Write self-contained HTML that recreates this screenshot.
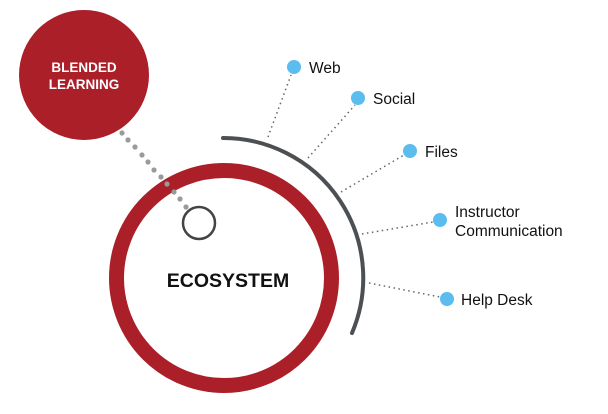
<!DOCTYPE html>
<html><head><style>
html,body{margin:0;padding:0;background:#fff;}
svg{display:block;}
text{font-family:"Liberation Sans",Arial,sans-serif;}
</style></head><body>
<svg width="608" height="414" viewBox="0 0 608 414" xmlns="http://www.w3.org/2000/svg">
<circle cx="224" cy="278" r="107.5" fill="none" stroke="#ab1f29" stroke-width="15"/>
<circle cx="84" cy="75" r="65" fill="#ab1f29"/>
<text x="84" y="72" fill="#fff" font-size="13.5" font-weight="bold" text-anchor="middle">BLENDED</text>
<text x="84" y="89" fill="#fff" font-size="13.5" font-weight="bold" text-anchor="middle">LEARNING</text>
<g fill="#9a9a9a">
<circle cx="122" cy="133" r="2.6"/><circle cx="128" cy="140" r="2.6"/><circle cx="135" cy="147" r="2.6"/>
<circle cx="142" cy="155" r="2.6"/><circle cx="148" cy="162" r="2.6"/><circle cx="154" cy="170" r="2.6"/>
<circle cx="161" cy="177" r="2.6"/><circle cx="167" cy="184" r="2.6"/><circle cx="174" cy="192" r="2.6"/>
<circle cx="180" cy="199" r="2.6"/><circle cx="186" cy="207" r="2.6"/>
</g>
<circle cx="199" cy="223" r="16" fill="none" stroke="#444" stroke-width="2.5"/>
<text x="228" y="287" fill="#111" font-size="19.5" font-weight="bold" text-anchor="middle">ECOSYSTEM</text>
<path d="M223 138 A140 140 0 0 1 352 333" fill="none" stroke="#4d5053" stroke-width="4" stroke-linecap="round"/>
<g stroke="#666" stroke-width="1.5" stroke-dasharray="1.5 3.5" fill="none">
<line x1="268" y1="137" x2="291" y2="75"/>
<line x1="308" y1="158" x2="355" y2="105"/>
<line x1="341" y1="192" x2="404" y2="155"/>
<line x1="362" y1="234" x2="433" y2="222"/>
<line x1="369" y1="283" x2="440" y2="297"/>
</g>
<g fill="#5bbcee">
<circle cx="294" cy="67" r="7"/>
<circle cx="358" cy="98" r="7"/>
<circle cx="410" cy="151" r="7"/>
<circle cx="440" cy="220" r="7"/>
<circle cx="447" cy="299" r="7"/>
</g>
<g fill="#111" font-size="15.5">
<text x="309" y="73">Web</text>
<text x="373" y="104">Social</text>
<text x="425" y="157">Files</text>
<text x="455" y="217">Instructor</text>
<text x="455" y="236">Communication</text>
<text x="461" y="305">Help Desk</text>
</g>
</svg>
</body></html>
